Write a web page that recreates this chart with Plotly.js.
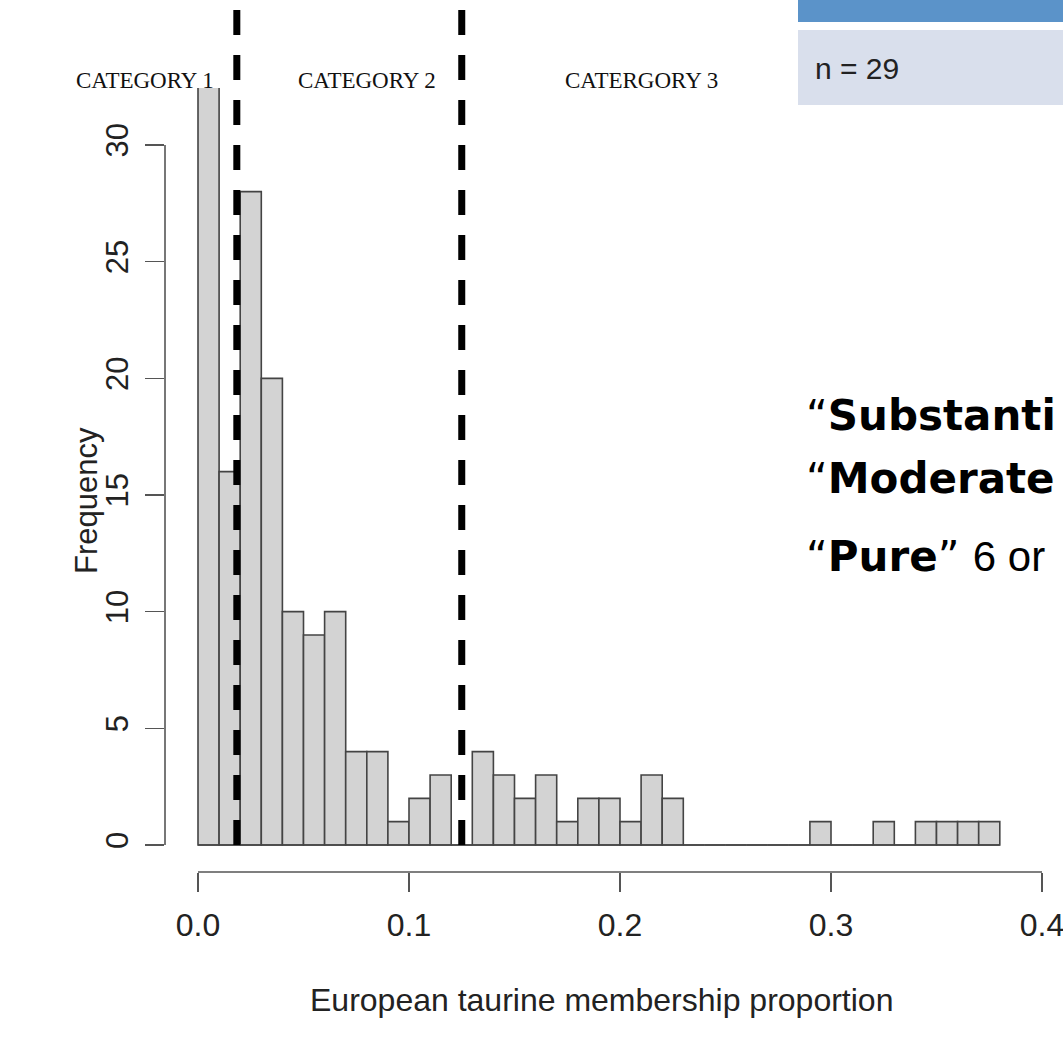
<!DOCTYPE html>
<html>
<head>
<meta charset="utf-8">
<script src="https://cdn.plot.ly/plotly-3.0.1.min.js"></script>
<style>html,body{margin:0;padding:0;background:#fff}#chart{width:1063px;height:1063px}</style>
</head>
<body>
<div id="chart"></div>
<script>
// ---- data ----
const binStarts = [0.00,0.01,0.02,0.03,0.04,0.05,0.06,0.07,0.08,0.09,
                   0.10,0.11,0.12,0.13,0.14,0.15,0.16,0.17,0.18,0.19,
                   0.20,0.21,0.22,0.23,0.24,0.25,0.26,0.27,0.28,0.29,
                   0.30,0.31,0.32,0.33,0.34,0.35,0.36,0.37];
const counts    = [33,16,28,20,10,9,10,4,4,1,
                   2,3,0,4,3,2,3,1,2,2,
                   1,3,2,0,0,0,0,0,0,1,
                   0,0,1,0,1,1,1,1];
const binWidth = 0.01;
const cutoffs = [0.0184, 0.125];
const categoryLabels = ["CATEGORY 1", "CATEGORY 2", "CATERGORY 3"];
const xTickVals = [0, 0.1, 0.2, 0.3, 0.4];
const xTickText = ["0.0", "0.1", "0.2", "0.3", "0.4"];
const yTickVals = [0, 5, 10, 15, 20, 25, 30];
const yTickText = ["0", "5", "10", "15", "20", "25", "30"];
const nLabel = "n = 29";

// ---- layout helpers (pixel -> paper) ----
const L = 165, T = 88, B = 191, W = 1063, H = 1063;
const PW = W - L, PH = H - T - B;
const px = v => (v - L) / PW;
const py = v => (H - B - v) / PH;
const BASE = 845, TOP30 = 145;

const axisCol = '#555';
const shapes = [];
shapes.push({type:'line', xref:'paper', yref:'y', x0:0, x1:0,
  y0:yTickVals[0], y1:yTickVals[yTickVals.length-1], line:{color:axisCol, width:1.6}});
shapes.push({type:'line', xref:'x', yref:'paper', y0:0, y1:0,
  x0:xTickVals[0], x1:xTickVals[xTickVals.length-1], line:{color:axisCol, width:1.6}});
shapes.push({type:'line', xref:'x', yref:'y', y0:0, y1:0,
  x0:binStarts[0], x1:binStarts[binStarts.length-1] + binWidth, line:{color:'#444', width:1.6}});
cutoffs.forEach(c => shapes.push({type:'line', xref:'x', yref:'paper', x0:c, x1:c,
  y0:py(BASE), y1:py(6), line:{color:'#000', width:7, dash:'25px,20px'}}));
shapes.push({type:'rect', xref:'paper', yref:'paper', x0:px(798), x1:px(1064), y0:py(22), y1:py(-2),
  fillcolor:'#5b93c9', line:{width:0}});
shapes.push({type:'rect', xref:'paper', yref:'paper', x0:px(798), x1:px(1064), y0:py(105), y1:py(30),
  fillcolor:'#d9dfec', line:{width:0}});

const catX = [145, 367, 641];
const annotations = categoryLabels.map((t, i) => ({
  text:t, xref:'paper', yref:'paper', x:px(catX[i]), y:py(80), xanchor:'center', yanchor:'middle',
  showarrow:false, font:{family:'Liberation Serif', size:23, color:'#111'}
}));
annotations.push({text:nLabel, xref:'paper', yref:'paper', x:px(813), y:py(68), xanchor:'left', yanchor:'middle',
  showarrow:false, font:{family:'Liberation Sans', size:30, color:'#222'}});
const bigFont = {family:'DejaVu Sans', size:42, color:'#000'};
annotations.push({text:'“<b>Substanti</b>', xref:'paper', yref:'paper', x:px(804), y:py(415), xanchor:'left', yanchor:'middle', showarrow:false, font:bigFont});
annotations.push({text:'“<b>Moderate</b>', xref:'paper', yref:'paper', x:px(804), y:py(479), xanchor:'left', yanchor:'middle', showarrow:false, font:bigFont});
annotations.push({text:'“<b>Pure</b>” <span style="font-family:Liberation Sans">6 or</span>', xref:'paper', yref:'paper', x:px(804), y:py(556), xanchor:'left', yanchor:'middle', showarrow:false, font:bigFont});
annotations.push({text:'European taurine membership proportion', xref:'paper', yref:'paper', x:px(601), y:py(1000),
  xanchor:'center', yanchor:'middle', showarrow:false, font:{family:'Liberation Sans', size:32, color:'#222'}});
annotations.push({text:'Frequency', xref:'paper', yref:'paper', x:px(86), y:py(501), textangle:-90,
  xanchor:'center', yanchor:'middle', showarrow:false, font:{family:'Liberation Sans', size:31, color:'#222'}});

const trace = {
  type:'bar', x:binStarts, y:counts, offset:0, width:binWidth,
  marker:{color:'#d3d3d3', line:{color:'#444', width:1.6}},
  hoverinfo:'x+y'
};

const unit = (BASE - TOP30) / 30;
const yMin = -(H - B - BASE) / unit;
const yMax = yMin + PH / unit;
const xPerPx = 0.1 / 211;
const xMin = -(198 - L) * xPerPx;
const xMax = xMin + PW * xPerPx;

const layout = {
  width:W, height:H, margin:{l:L, r:0, t:T, b:B, pad:0},
  paper_bgcolor:'#fff', plot_bgcolor:'#fff', showlegend:false, bargap:0,
  font:{family:'Liberation Sans', color:'#222'},
  xaxis:{range:[xMin, xMax], tickvals:xTickVals, ticktext:xTickText, ticks:'outside', ticklen:19,
    tickwidth:1.6, tickcolor:axisCol, showline:false, showgrid:false, zeroline:false,
    ticklabeloverflow:'allow',
    tickfont:{family:'Liberation Sans', size:32, color:'#222'}, ticklabelstandoff:6},
  yaxis:{range:[yMin, yMax], tickvals:yTickVals, ticktext:yTickText, ticks:'outside', ticklen:19,
    tickwidth:1.6, tickcolor:axisCol, showline:false, showgrid:false, zeroline:false, tickangle:-90,
    tickfont:{family:'Liberation Sans', size:31, color:'#222'}, ticklabelstandoff:5},
  shapes:shapes, annotations:annotations
};

Plotly.newPlot('chart', [trace], layout, {staticPlot:true, displayModeBar:false});
</script>
</body>
</html>
